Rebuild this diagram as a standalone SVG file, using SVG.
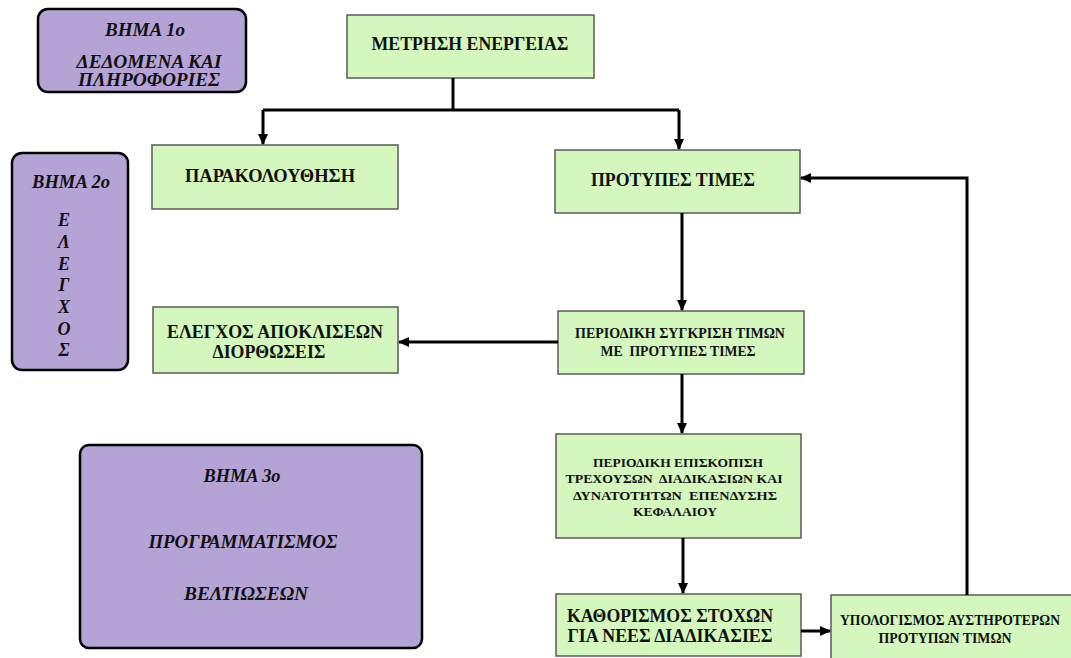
<svg xmlns="http://www.w3.org/2000/svg" width="1071" height="658" viewBox="0 0 1071 658">
<style>
.g{fill:#d3f7bd;stroke:#5a5a5a;stroke-width:1.5}
.p{fill:#b4a3d4;stroke:#000;stroke-width:2.5}
.t{font-family:"Liberation Serif","Times New Roman","DejaVu Serif",serif;font-weight:bold;fill:#111;text-anchor:middle}
.i{font-style:italic;font-size:18px}
.c{fill:none;stroke:#000;stroke-width:3}
</style>
<defs>
<marker id="ah" markerWidth="12" markerHeight="12" refX="10" refY="6" orient="auto" markerUnits="userSpaceOnUse">
<path d="M0,1 L11,6 L0,11 Z" fill="#000"/>
</marker>
</defs>
<rect width="1071" height="658" fill="#fff"/>
<g id="step1">
<rect class="p" x="38" y="9" width="208" height="83" rx="10"/>
<text class="t i" x="145" y="36" textLength="80" lengthAdjust="spacingAndGlyphs">ΒΗΜΑ 1ο</text>
<text class="t i" x="149" y="68" textLength="145" lengthAdjust="spacingAndGlyphs">ΔΕΔΟΜΕΝΑ ΚΑΙ</text>
<text class="t i" x="149" y="86" textLength="142" lengthAdjust="spacingAndGlyphs">ΠΛΗΡΟΦΟΡΙΕΣ</text>
</g>
<g id="step2">
<rect class="p" x="12" y="153" width="116" height="217" rx="10"/>
<text class="t i" x="71" y="188" textLength="78" lengthAdjust="spacingAndGlyphs">ΒΗΜΑ 2ο</text>
<text class="t i" x="64" y="226">Ε</text>
<text class="t i" x="64" y="248">Λ</text>
<text class="t i" x="64" y="270">Ε</text>
<text class="t i" x="64" y="291">Γ</text>
<text class="t i" x="64" y="313">Χ</text>
<text class="t i" x="64" y="335">Ο</text>
<text class="t i" x="64" y="356">Σ</text>
</g>
<g id="step3">
<rect class="p" x="80" y="445" width="342" height="203" rx="9"/>
<text class="t i" x="242" y="482" textLength="77" lengthAdjust="spacingAndGlyphs">ΒΗΜΑ 3ο</text>
<text class="t i" x="243" y="548" textLength="189" lengthAdjust="spacingAndGlyphs">ΠΡΟΓΡΑΜΜΑΤΙΣΜΟΣ</text>
<text class="t i" x="246" y="600" textLength="124" lengthAdjust="spacingAndGlyphs">ΒΕΛΤΙΩΣΕΩΝ</text>
</g>
<g id="metrisi">
<rect class="g" x="347" y="15" width="247" height="63"/>
<text class="t" x="470" y="50" font-size="18" textLength="197" lengthAdjust="spacingAndGlyphs">ΜΕΤΡΗΣΗ ΕΝΕΡΓΕΙΑΣ</text>
</g>
<g id="parakolouthisi">
<rect class="g" x="152" y="145" width="246" height="64"/>
<text class="t" x="270" y="182" font-size="18" textLength="170" lengthAdjust="spacingAndGlyphs">ΠΑΡΑΚΟΛΟΥΘΗΣΗ</text>
</g>
<g id="protypes">
<rect class="g" x="555" y="150" width="245" height="63"/>
<text class="t" x="673" y="186" font-size="18" textLength="164" lengthAdjust="spacingAndGlyphs">ΠΡΟΤΥΠΕΣ ΤΙΜΕΣ</text>
</g>
<g id="elegxos">
<rect class="g" x="153" y="307" width="245" height="66"/>
<text class="t" x="275" y="338" font-size="18" textLength="216" lengthAdjust="spacingAndGlyphs">ΕΛΕΓΧΟΣ ΑΠΟΚΛΙΣΕΩΝ</text>
<text class="t" x="269" y="358" font-size="18" textLength="113" lengthAdjust="spacingAndGlyphs">ΔΙΟΡΘΩΣΕΙΣ</text>
</g>
<g id="sygkrisi">
<rect class="g" x="558" y="311" width="246" height="63"/>
<text class="t" x="680" y="338" font-size="14" textLength="210" lengthAdjust="spacingAndGlyphs">ΠΕΡΙΟΔΙΚΗ ΣΥΓΚΡΙΣΗ ΤΙΜΩΝ</text>
<text class="t" x="678" y="356" font-size="14" textLength="155" lengthAdjust="spacingAndGlyphs" xml:space="preserve">ΜΕ  ΠΡΟΤΥΠΕΣ ΤΙΜΕΣ</text>
</g>
<g id="episkopisi">
<rect class="g" x="556" y="434" width="245" height="104"/>
<text class="t" x="678" y="467" font-size="13.5" textLength="170" lengthAdjust="spacingAndGlyphs">ΠΕΡΙΟΔΙΚΗ ΕΠΙΣΚΟΠΙΣΗ</text>
<text class="t" x="674" y="483" font-size="13.5" textLength="217" lengthAdjust="spacingAndGlyphs" xml:space="preserve">ΤΡΕΧΟΥΣΩΝ  ΔΙΑΔΙΚΑΣΙΩΝ ΚΑΙ</text>
<text class="t" x="675" y="500" font-size="13.5" textLength="204" lengthAdjust="spacingAndGlyphs" xml:space="preserve">ΔΥΝΑΤΟΤΗΤΩΝ  ΕΠΕΝΔΥΣΗΣ</text>
<text class="t" x="675" y="516" font-size="13.5" textLength="84" lengthAdjust="spacingAndGlyphs">ΚΕΦΑΛΑΙΟΥ</text>
</g>
<g id="kathorismos">
<rect class="g" x="556" y="594" width="245" height="62"/>
<text class="t" x="670" y="622" font-size="18" textLength="206" lengthAdjust="spacingAndGlyphs">ΚΑΘΟΡΙΣΜΟΣ ΣΤΟΧΩΝ</text>
<text class="t" x="670" y="642" font-size="18" textLength="205" lengthAdjust="spacingAndGlyphs">ΓΙΑ ΝΕΕΣ ΔΙΑΔΙΚΑΣΙΕΣ</text>
</g>
<g id="ypologismos">
<rect class="g" x="831" y="595" width="245" height="70"/>
<text class="t" x="950" y="625" font-size="14" textLength="220" lengthAdjust="spacingAndGlyphs">ΥΠΟΛΟΓΙΣΜΟΣ ΑΥΣΤΗΡΟΤΕΡΩΝ</text>
<text class="t" x="945" y="643" font-size="14" textLength="133" lengthAdjust="spacingAndGlyphs">ΠΡΟΤΥΠΩΝ ΤΙΜΩΝ</text>
</g>
<g id="connectors">
<path class="c" d="M453,78 V110"/>
<path class="c" d="M263,110 H679"/>
<path class="c" d="M263,110 V144" marker-end="url(#ah)"/>
<path class="c" d="M679,110 V149" marker-end="url(#ah)"/>
<path class="c" d="M682,213 V310" marker-end="url(#ah)"/>
<path class="c" d="M558,342 H399" marker-end="url(#ah)"/>
<path class="c" d="M682,374 V433" marker-end="url(#ah)"/>
<path class="c" d="M683,538 V593" marker-end="url(#ah)"/>
<path class="c" d="M801,631 H830" marker-end="url(#ah)"/>
<path class="c" d="M967,595 V178 H801" marker-end="url(#ah)"/>
</g>
</svg>
